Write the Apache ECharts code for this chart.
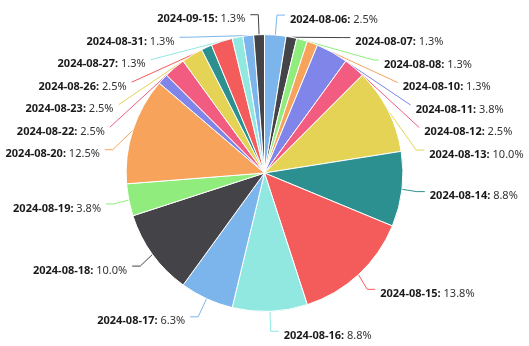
<!DOCTYPE html>
<html>
<head>
<meta charset="utf-8">
<script src="https://cdn.jsdelivr.net/npm/echarts@6/dist/echarts.min.js"></script>
<style>html,body{margin:0;padding:0;background:#fff;}#c{width:529px;height:346px;}</style>
</head>
<body>
<div id="c"></div>
<script>
var categories = ['2024-08-06','2024-08-07','2024-08-08','2024-08-10','2024-08-11','2024-08-12','2024-08-13','2024-08-14','2024-08-15','2024-08-16','2024-08-17','2024-08-18','2024-08-19','2024-08-20','2024-08-21','2024-08-22','2024-08-23','2024-08-24','2024-08-26','2024-08-27','2024-08-31','2024-09-15'];
var values = [2,1,1,1,3,2,8,7,11,7,5,8,3,10,1,2,2,1,2,1,1,1];
var hiddenLabels = ['2024-08-21','2024-08-24'];
var palette = ['#7cb5ec','#434348','#90ed7d','#f7a35c','#8085e9','#f15c80','#e4d354','#2b908f','#f45b5b','#91e8e1'];

var total = values.reduce(function(a,b){return a+b;},0);
var data = categories.map(function(c,i){
  var d = {name:c, value:values[i]};
  if (hiddenLabels.indexOf(c) >= 0) { d.label = {show:false}; d.labelLine = {show:false}; }
  return d;
});
var chart = echarts.init(document.getElementById('c'));
chart.setOption({
  color: palette,
  animation: false,
  series: [{
    type: 'pie',
    center: ['50%','50%'],
    radius: [0,'80%'],
    data: data,
    itemStyle: {borderColor:'#fff', borderWidth:1},
    label: {
      fontFamily: 'Noto Sans',
      fontSize: 11,
      lineHeight: 11.5,
      padding: [9,0,0,0],
      overflow: 'none',
      formatter: function(p){ return '{a|' + p.name + ':} {b|' + (p.value/total*100).toFixed(1) + '%}'; },
      rich: {
        a: {fontFamily:'Noto Sans', fontSize:11, fontWeight:'bold', color:'#1a1a1a', lineHeight:11.5},
        b: {fontFamily:'Noto Sans', fontSize:11, color:'#333', lineHeight:11.5}
      }
    },
    labelLine: {length: 20, length2: 8}
  }]
});
</script>
</body>
</html>
